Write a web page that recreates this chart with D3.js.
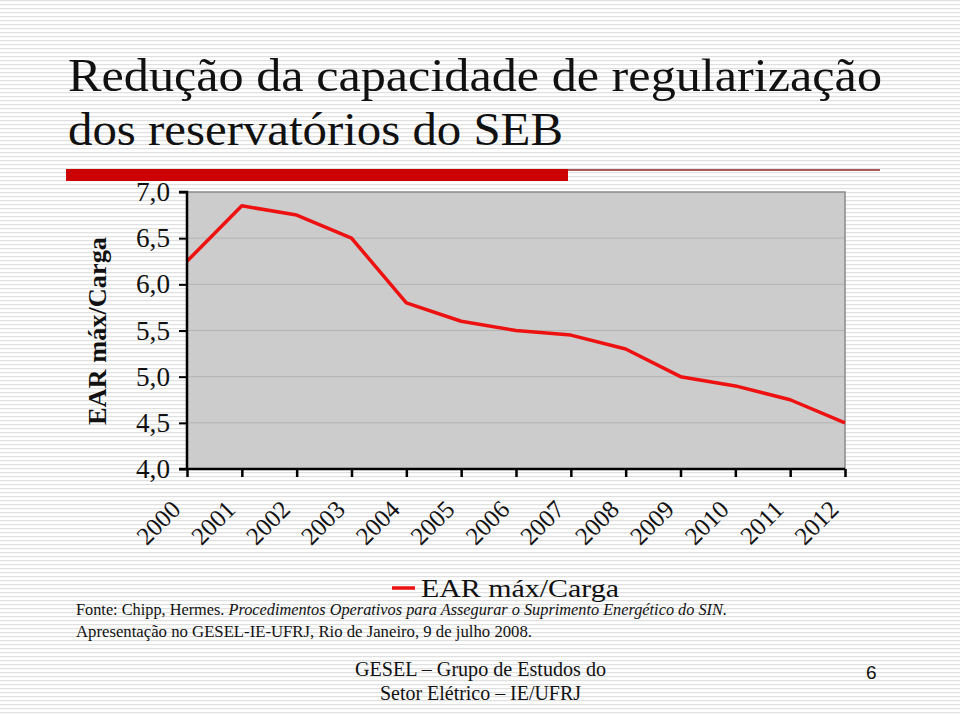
<!DOCTYPE html>
<html><head><meta charset="utf-8">
<script src="https://cdn.jsdelivr.net/npm/d3@7"></script>
<style>html,body{margin:0;padding:0;background:#fff}svg{display:block}</style>
</head><body>
<script>
const years = ["2000","2001","2002","2003","2004","2005","2006","2007","2008","2009","2010","2011","2012"];
const earMaxCarga = [6.25,6.85,6.75,6.5,5.8,5.6,5.5,5.45,5.3,5.0,4.9,4.75,4.5];
const yTicks = [4.0,4.5,5.0,5.5,6.0,6.5,7.0];
const seriesName = "EAR máx/Carga";
const titleLines = ["Redução da capacidade de regularização","dos reservatórios do SEB"];

const W = 960, H = 715;
const svg = d3.select("body").append("svg").attr("width", W).attr("height", H);
const defs = svg.append("defs");
const pat = defs.append("pattern").attr("id","stripes").attr("patternUnits","userSpaceOnUse")
  .attr("width",4).attr("height",4);
pat.append("rect").attr("width",4).attr("height",4).attr("fill","#ffffff");
pat.append("rect").attr("y",0).attr("width",4).attr("height",1.2).attr("fill","#e0e0e0");
svg.append("rect").attr("width",W).attr("height",H).attr("fill","url(#stripes)");

const serif = "'Liberation Serif','Times New Roman',serif";

// Title
svg.append("text").attr("x",68).attr("y",91).attr("font-family",serif).attr("font-size",47)
  .attr("textLength",814).attr("lengthAdjust","spacingAndGlyphs").attr("fill","#111").text(titleLines[0]);
svg.append("text").attr("x",68).attr("y",145).attr("font-family",serif).attr("font-size",47)
  .attr("textLength",495).attr("lengthAdjust","spacingAndGlyphs").attr("fill","#111").text(titleLines[1]);

// red bar
svg.append("rect").attr("x",66).attr("y",169).attr("width",502).attr("height",12).attr("fill","#cc0000");
svg.append("rect").attr("x",568).attr("y",169).attr("width",312).attr("height",2).attr("fill","#a85a5a");

// Chart
const x0 = 187, x1 = 845, y0 = 469, y1 = 192;
const x = d3.scalePoint().domain(years).range([x0, x1]);
const y = d3.scaleLinear().domain([4.0, 7.0]).range([y0, y1]);

svg.append("rect").attr("x",x0).attr("y",y1).attr("width",x1-x0).attr("height",y0-y1).attr("fill","#cccccc");
svg.append("g").selectAll("line").data(yTicks.filter(d=>d>4 && d<7)).join("line")
  .attr("x1",x0).attr("x2",x1).attr("y1",d=>y(d)).attr("y2",d=>y(d))
  .attr("stroke","#b4b4b4").attr("stroke-width",1);
svg.append("path").attr("d",`M${x0},${y1}H${x1}V${y0}`).attr("fill","none").attr("stroke","#8a8a8a").attr("stroke-width",1.5);

const line = d3.line().x((d,i)=>x(years[i])).y(d=>y(d));
svg.append("path").datum(earMaxCarga).attr("d",line).attr("fill","none")
  .attr("stroke","#ee1111").attr("stroke-width",3.5).attr("stroke-linejoin","round");

// y axis
const yAxis = d3.axisLeft(y).tickValues(yTicks).tickSize(8).tickPadding(9)
  .tickFormat(d=>d3.format(".1f")(d).replace(".",","));
const gy = svg.append("g").attr("transform",`translate(${x0},0)`).call(yAxis);
gy.select(".domain").attr("stroke","#000").attr("stroke-width",2.5).attr("d",`M-8,${y1}H0V${y0}H-8`);
gy.selectAll(".tick line").attr("stroke","#000").attr("stroke-width",2);
gy.selectAll(".tick text").attr("font-family",serif).attr("font-size",27).attr("fill","#111")
  .attr("textLength",34).attr("lengthAdjust","spacingAndGlyphs");

// x axis
const xAxis = d3.axisBottom(x).tickSize(8).tickFormat("");
const gx = svg.append("g").attr("transform",`translate(0,${y0})`).call(xAxis);
gx.select(".domain").attr("stroke","#000").attr("stroke-width",2.5).attr("d",`M${x0},0H${x1}`);
gx.selectAll(".tick line").attr("stroke","#000").attr("stroke-width",2.5);
svg.append("g").selectAll("text").data(years).join("text")
  .attr("transform",d=>`translate(${x(d)-5},${y0+42}) rotate(-45)`)
  .attr("text-anchor","end").attr("font-family",serif).attr("font-size",25).attr("fill","#111")
  .text(d=>d);

// y title
svg.append("text").attr("transform",`translate(106,${331}) rotate(-90)`).attr("text-anchor","middle")
  .attr("font-family",serif).attr("font-weight","bold").attr("font-size",26).attr("fill","#111")
  .attr("textLength",188).attr("lengthAdjust","spacingAndGlyphs").text("EAR máx/Carga");

// legend
svg.append("line").attr("x1",392).attr("x2",415).attr("y1",588).attr("y2",588)
  .attr("stroke","#ee1111").attr("stroke-width",3.5);
svg.append("text").attr("x",421).attr("y",597).attr("font-family",serif).attr("font-size",25)
  .attr("textLength",198).attr("lengthAdjust","spacingAndGlyphs").attr("fill","#111").text(seriesName);

// footer source
const f1 = svg.append("text").attr("x",76).attr("y",615).attr("font-family",serif).attr("font-size",16.5)
  .attr("fill","#111").attr("textLength",651).attr("lengthAdjust","spacingAndGlyphs");
f1.append("tspan").text("Fonte: Chipp, Hermes. ");
f1.append("tspan").attr("font-style","italic").text("Procedimentos Operativos para Assegurar o Suprimento Energético do SIN.");
svg.append("text").attr("x",76).attr("y",637).attr("font-family",serif).attr("font-size",16.5)
  .attr("fill","#111").attr("textLength",456).attr("lengthAdjust","spacingAndGlyphs")
  .text("Apresentação no GESEL-IE-UFRJ, Rio de Janeiro, 9 de julho 2008.");

// bottom
svg.append("text").attr("x",355).attr("y",676).attr("font-family",serif).attr("font-size",20)
  .attr("fill","#111").attr("textLength",251).attr("lengthAdjust","spacingAndGlyphs").text("GESEL – Grupo de Estudos do");
svg.append("text").attr("x",380).attr("y",700).attr("font-family",serif).attr("font-size",20)
  .attr("fill","#111").attr("textLength",201).attr("lengthAdjust","spacingAndGlyphs").text("Setor Elétrico – IE/UFRJ");
svg.append("text").attr("x",866).attr("y",679).attr("font-family","'Liberation Sans',Arial,sans-serif").attr("font-size",19)
  .attr("fill","#111").text("6");
</script>
</body></html>
